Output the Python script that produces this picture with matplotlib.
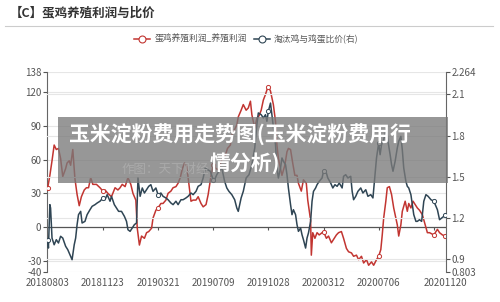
import matplotlib
matplotlib.use("Agg")
import matplotlib.pyplot as plt
from matplotlib.lines import Line2D
from matplotlib.patches import Rectangle

plt.rcParams['font.family'] = ['Noto Sans CJK SC', 'DejaVu Sans']

# 交易日序号 -> 日期标签
tick_idx = [0, 77, 154, 231, 308, 385, 462, 555]
tick_labels = ['20180803', '20181123', '20190321', '20190709',
               '20191028', '20200312', '20200706', '20201120']
minor_ticks = [77, 154, 231, 308, 385, 462, 539]
marker_idx = [0, 77, 154, 231, 308, 385, 462, 539, 555]

# 蛋鸡养殖利润_养殖利润 (左轴)
profit_x = [0, 3, 6, 9, 12, 15, 18, 21, 25, 27, 30, 32, 35, 38, 41, 44, 47, 51, 54, 57,
            60, 63, 68, 73, 77, 80, 84, 89, 94, 98, 101, 104, 108, 112, 116, 119, 123, 125,
            128, 131, 135, 138, 141, 145, 147, 151, 154, 158, 161, 165, 168, 172, 175, 179,
            182, 185, 188, 191, 194, 196, 200, 203, 207, 210, 214, 217, 221, 224, 228, 231,
            235, 238, 243, 248, 251, 255, 257, 261, 264, 266, 270, 273, 277, 280, 283, 285,
            289, 292, 295, 298, 301, 304, 306, 308, 311, 313, 315, 318, 320, 322, 325, 327,
            331, 334, 336, 339, 342, 345, 348, 350, 354, 357, 361, 363, 367, 368, 370, 373,
            376, 379, 383, 385, 389, 392, 396, 399, 403, 406, 410, 413, 417, 420, 424, 427,
            431, 434, 438, 441, 445, 448, 452, 455, 459, 462, 465, 467, 469, 472, 474, 477,
            480, 483, 486, 488, 490, 493, 495, 499, 502, 504, 507, 510, 513, 516, 519, 523,
            527, 530, 533, 539, 541, 544, 547, 551, 555]
profit = [35, 46, 59, 73, 69, 70, 61, 45, 52, 57, 59, 55, 69, 43, 29, 19, 27, 33, 35, 35,
          44, 38, 38, 35, 32, 33, 30, 27, 35, 33, 35, 38, 36, 44, 38, 30, 24, -1,
          -16, -8, -10, -5, -4, -1, 8, 15, 17, 21, 21, 24, 30, 32, 35, 36,
          39, 44, 52, 57, 54, 44, 23, 24, 24, 27, 21, 18, 20, 29, 46, 55,
          52, 51, 60, 64, 70, 73, 82, 87, 91, 98, 104, 109, 104, 106, 112, 100,
          88, 97, 99, 104, 113, 118, 122, 125, 121, 115, 109, 94, 73, 61, 52, 46,
          55, 67, 70, 69, 57, 46, 46, 39, 32, 42, 39, 24, 6, -25, -5, -10,
          -5, -7, -5, -4, -10, -8, -14, -11, -7, -5, -4, -10, -19, -22, -23, -26,
          -25, -29, -26, -32, -29, -34, -31, -34, -29, -26, -20, -7, 8, 23, 35, 36,
          29, 17, 8, 2, -8, 2, 14, 23, 14, 21, 17, 23, 20, 17, 15, 11,
          2, -5, -5, -7, -5, -2, -5, -7, -8]

# 淘汰鸡与鸡蛋比价 (右轴)
ratio_x = [0, 1, 3, 4, 6, 9, 12, 15, 18, 21, 25, 28, 32, 34, 37, 39, 41, 43, 46, 48,
           52, 55, 59, 62, 66, 69, 73, 77, 80, 83, 87, 89, 93, 96, 99, 103, 107, 110,
           112, 115, 118, 121, 124, 126, 129, 132, 135, 138, 141, 144, 147, 151, 154,
           158, 161, 165, 168, 172, 175, 179, 182, 186, 189, 193, 196, 200, 203, 207,
           210, 214, 217, 220, 223, 227, 231, 233, 236, 239, 243, 247, 250, 253, 257,
           261, 264, 266, 270, 273, 277, 281, 285, 289, 292, 294, 298, 301, 304, 306,
           308, 311, 313, 315, 318, 320, 322, 325, 327, 329, 332, 334, 336, 339, 341,
           343, 346, 348, 350, 353, 355, 357, 360, 362, 364, 367, 369, 371, 374, 376,
           379, 383, 385, 389, 391, 395, 398, 401, 404, 407, 411, 413, 416, 419, 423,
           425, 427, 430, 433, 437, 440, 444, 447, 451, 454, 457, 459, 462, 464, 466,
           469, 473, 475, 478, 480, 482, 485, 488, 490, 493, 495, 497, 500, 502, 504,
           507, 509, 511, 514, 516, 519, 522, 525, 528, 531, 535, 539, 541, 544, 547,
           550, 553, 555]
ratio = [1.039, 0.978, 1.295, 1.27, 1.051, 1.002, 1.039, 1.015, 1.064, 1.051, 0.991, 0.966,
         0.918, 0.893, 1.002, 1.051, 1.149, 1.222, 1.246, 1.161,
         1.173, 1.222, 1.258, 1.283, 1.295, 1.307, 1.32, 1.344, 1.331, 1.368, 1.32, 1.356,
         1.295, 1.27, 1.246, 1.246, 1.21, 1.173,
         1.112, 1.1, 1.124, 1.149, 1.161, 1.49, 1.356, 1.417, 1.38, 1.404, 1.429, 1.441,
         1.392, 1.417, 1.368,
         1.38, 1.356, 1.344, 1.331, 1.307, 1.295, 1.32, 1.295, 1.331, 1.331, 1.344, 1.356,
         1.38, 1.368, 1.392,
         1.429, 1.441, 1.49, 1.563, 1.551, 1.539, 1.477, 1.477, 1.514, 1.539, 1.563, 1.465,
         1.417, 1.392, 1.368,
         1.331, 1.27, 1.246, 1.344, 1.392, 1.49, 1.514, 1.587, 1.709, 1.879, 1.965, 1.952,
         1.928, 1.952, 1.904,
         1.977, 2.037, 1.952, 1.867, 1.733, 1.563, 1.49, 1.563, 1.636, 1.612, 1.587, 1.514,
         1.417, 1.295, 1.222,
         1.258, 1.222, 1.149, 1.1, 1.124, 1.075, 1.039, 0.978, 1.051, 1.088, 1.173, 1.32,
         1.392, 1.417, 1.441,
         1.465, 1.49, 1.539, 1.526, 1.49, 1.453, 1.417, 1.441, 1.429, 1.453, 1.417, 1.502,
         1.514, 1.49, 1.502,
         1.392, 1.331, 1.356, 1.392, 1.417, 1.38, 1.404, 1.356, 1.368, 1.344, 1.514, 1.636,
         1.745, 1.66, 1.733,
         1.769, 1.855, 1.758, 1.66, 1.587, 1.539, 1.612, 1.709, 1.758, 1.794, 1.696, 1.563,
         1.465, 1.429, 1.417,
         1.368, 1.295, 1.222, 1.173, 1.173, 1.185, 1.173, 1.32, 1.368, 1.356, 1.331, 1.32,
         1.295, 1.258, 1.185,
         1.197, 1.21, 1.222]

red = '#c23531'
navy = '#2f4554'
grid_c = '#e6e6e6'
txt_c = '#555555'

fig = plt.figure(figsize=(5, 3.02), dpi=100)
ax = fig.add_axes([0.094, 0.0993, 0.798, 0.6623])
ax2 = ax.twinx()

ax.set_ylim(-40, 138)
ax2.set_ylim(0.803, 2.264)
ax.set_xlim(-1, 556)

for v in [138, 120, 90, 60, 30, -30, -40]:
    ax.axhline(v, color=grid_c, lw=0.8, zorder=0)
for v in [2.1, 1.8, 1.5, 1.2, 0.9]:
    ax2.axhline(v, color=grid_c, lw=0.8, zorder=0)
ax.axhline(0, color='#555555', lw=0.9, zorder=1)

pm = [profit_x.index(i) for i in marker_idx]
rm = [ratio_x.index(i) for i in marker_idx]
ax.plot(profit_x, profit, color=red, lw=1.1, marker='o', ms=3, mfc='white',
        mew=0.7, markevery=pm, zorder=3)
ax2.plot(ratio_x, ratio, color=navy, lw=1.1, marker='o', ms=3, mfc='white',
         mew=0.7, markevery=rm, zorder=3)

ax.set_yticks([138, 120, 90, 60, 30, 0, -30, -40])
ax.set_yticklabels(['138', '120', '90', '60', '30', '0', '-30', '-40'])
ax2.set_yticks([2.264, 2.1, 1.8, 1.5, 1.2, 0.9, 0.803])
ax2.set_yticklabels(['2.264', '2.1', '1.8', '1.5', '1.2', '0.9', '0.803'])
ax.set_xticks(tick_idx)
ax.set_xticklabels(tick_labels)
ax.tick_params(axis='x', length=0, labelsize=7, colors=txt_c, pad=4)
ax.tick_params(axis='y', length=3, labelsize=7, colors=txt_c, pad=1, width=0.8)
ax2.tick_params(axis='y', length=3, labelsize=7, colors=txt_c, pad=1, width=0.8)
for a in (ax, ax2):
    for s in ('top', 'bottom'):
        a.spines[s].set_visible(False)
ax2.spines['left'].set_visible(False)
ax.spines['right'].set_visible(False)
ax.spines['left'].set_color('#666666')
ax2.spines['right'].set_color('#666666')
ax.vlines(minor_ticks, -3, 0, color='#555555', lw=0.8, zorder=1)

# 标题和图例
fig.text(0.02, 0.957, '【C】蛋鸡养殖利润与比价', fontsize=9, fontweight='bold',
         color='#333333', va='center')
fig.add_artist(Line2D([0.01, 0.986], [0.914, 0.914], color='#cccccc', lw=0.8))
handles = [Line2D([], [], color=red, lw=1.1, marker='o', ms=5, mfc='white', mew=0.8),
           Line2D([], [], color=navy, lw=1.1, marker='o', ms=5, mfc='white', mew=0.8)]
fig.legend(handles, ['蛋鸡养殖利润_养殖利润', '淘汰鸡与鸡蛋比价(右)'], loc='center',
           bbox_to_anchor=(0.493, 0.871), ncol=2, frameon=False, fontsize=6.3,
           handlelength=1.8, columnspacing=0.8, handletextpad=0.5, labelcolor=txt_c)

# 遮罩、水印和大标题
fig.add_artist(Rectangle((0.116, 0.394), 0.78, 0.219, transform=fig.transFigure,
                         facecolor='#7a7a7a', alpha=0.78, edgecolor='none', zorder=6))
fig.text(0.33, 0.44, '作图：天下财经', fontsize=9, color='#aaaaaa',
         ha='center', va='center', zorder=7)
fig.text(0.479, 0.553, '玉米淀粉费用走势图(玉米淀粉费用行', fontsize=15, fontweight='bold',
         color='white', ha='center', va='center', zorder=8)
fig.text(0.49, 0.46, '情分析)', fontsize=15, fontweight='bold',
         color='white', ha='center', va='center', zorder=8)

fig.savefig('out.png', dpi=100)
plt.close(fig)
